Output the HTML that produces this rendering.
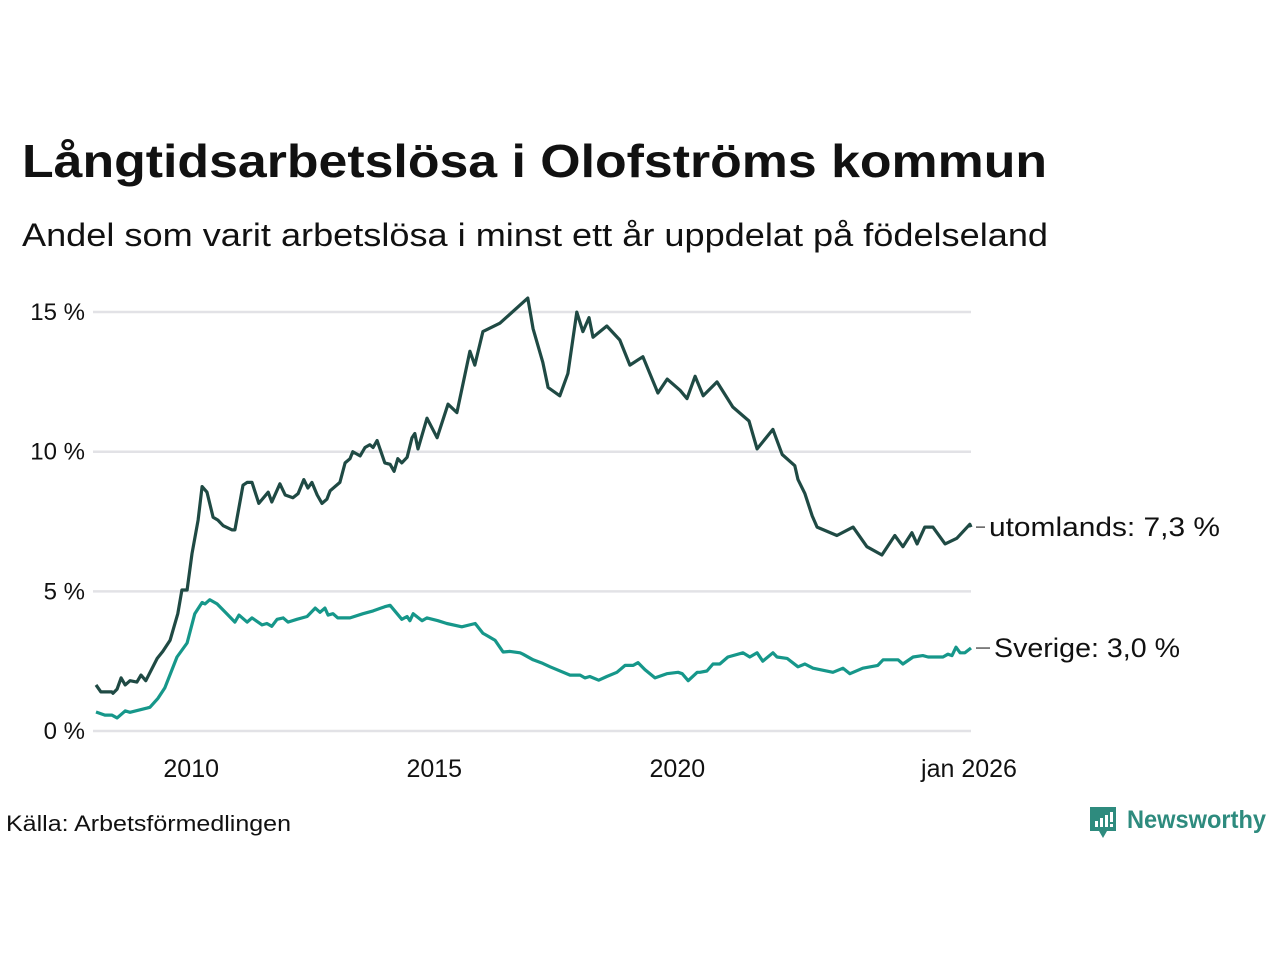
<!DOCTYPE html>
<html><head><meta charset="utf-8"><style>
html,body{margin:0;padding:0;background:#fff;}
svg{display:block;font-family:"Liberation Sans",sans-serif;}
</style></head><body>
<svg id="chart" width="1280" height="960" viewBox="0 0 1280 960">
<text x="22" y="177" font-size="46" font-weight="bold" fill="#111" textLength="1025" lengthAdjust="spacingAndGlyphs">Långtidsarbetslösa i Olofströms kommun</text>
<text x="22" y="246" font-size="32" fill="#111" textLength="1026" lengthAdjust="spacingAndGlyphs">Andel som varit arbetslösa i minst ett år uppdelat på födelseland</text>
<g id="grid"></g>
<g id="yticks"></g>
<g id="xticks"></g>
<g id="lines"></g>
<text x="6" y="831" font-size="22" fill="#111" textLength="285" lengthAdjust="spacingAndGlyphs">Källa: Arbetsförmedlingen</text>
<g>
<path d="M1090 807 h26 v24 h-9 l-4 7 l-4 -7 h-9 z" fill="#2e8b7e"/>
<rect x="1095" y="821" width="3" height="6" fill="#fff"/>
<rect x="1100" y="818" width="3" height="9" fill="#fff"/>
<rect x="1105" y="815" width="3" height="12" fill="#fff"/>
<rect x="1110" y="812" width="3" height="10" fill="#fff"/><rect x="1110" y="824" width="3" height="3" fill="#fff"/>
<text x="1127" y="828" font-size="25" font-weight="bold" fill="#2e8b7e" textLength="139" lengthAdjust="spacingAndGlyphs">Newsworthy</text>
</g>
</svg>
<script>
const yTicks = [0, 5, 10, 15];
const yTickLabels = ["0 %", "5 %", "10 %", "15 %"];
const xTicks = [24, 84, 144, 216];
const xTickLabels = ["2010", "2015", "2020", "jan 2026"];
// months since jan 2008
const foreignMonths = [0,1.2,3.9,4.2,5.2,6.2,7.2,8.4,10.1,11.1,12.3,15.1,16.5,18.3,20.2,21.2,22.5,23.7,25.2,26.2,27.4,28.9,30.1,31.4,33.6,34.3,36.3,37.3,38.5,40.2,42.5,43.4,45.4,46.7,48.6,49.9,51.3,52.3,53.3,54.6,55.8,57.0,57.8,60.2,61.5,62.7,63.4,65.2,66.4,67.6,68.4,69.4,71.3,72.6,73.6,74.5,75.5,76.8,78.0,78.7,79.5,81.7,84.2,86.9,89.1,92.3,93.5,95.5,99.7,106.6,107.9,110.3,111.6,114.5,116.5,118.7,120.2,121.7,122.7,126.1,129.3,131.8,135.0,138.7,141.0,144.2,145.9,147.9,149.9,153.3,157.2,161.2,163.2,167.1,169.4,172.5,173.3,175.0,176.8,178.0,182.9,186.9,190.3,194.0,197.2,199.2,201.4,202.7,204.6,206.6,209.6,212.5,215.7,216];
const foreignValues = [1.65,1.4,1.4,1.35,1.5,1.9,1.65,1.8,1.75,2.0,1.8,2.6,2.85,3.25,4.2,5.05,5.05,6.35,7.55,8.75,8.55,7.65,7.55,7.35,7.2,7.2,8.8,8.9,8.9,8.15,8.55,8.2,8.85,8.45,8.35,8.5,9.0,8.7,8.9,8.45,8.15,8.3,8.6,8.9,9.6,9.75,10.0,9.85,10.15,10.25,10.15,10.4,9.6,9.55,9.3,9.75,9.6,9.8,10.5,10.65,10.1,11.2,10.5,11.7,11.4,13.6,13.1,14.3,14.6,15.5,14.4,13.2,12.3,12.0,12.8,15.0,14.3,14.8,14.1,14.5,14.0,13.1,13.4,12.1,12.6,12.2,11.9,12.7,12.0,12.5,11.6,11.1,10.1,10.8,9.9,9.5,9.0,8.5,7.7,7.3,7.0,7.3,6.6,6.3,7.0,6.6,7.1,6.7,7.3,7.3,6.7,6.9,7.4,7.3];
const swedenMonths = [0,2.2,3.9,5.2,7.2,8.4,12.6,13.3,15.3,17.0,20.0,22.5,24.4,26.2,26.9,28.1,29.9,32.3,34.3,35.3,37.3,38.5,41.0,42.2,43.4,44.7,46.2,47.4,49.6,52.1,54.1,55.3,56.5,57.3,58.5,59.7,62.7,65.9,68.4,71.3,72.6,75.5,76.8,77.5,78.3,80.5,81.7,84.4,86.6,90.3,93.6,95.5,98.5,100.5,102.2,104.7,105.4,107.9,110.3,112.1,117.0,119.5,120.7,121.9,124.1,126.1,128.6,130.6,132.6,133.8,135.5,138.0,140.9,143.7,144.7,146.2,148.4,149.1,150.8,152.3,154.0,156.0,159.7,161.4,163.2,164.6,167.1,168.1,170.6,173.3,175.0,177.0,181.9,184.4,186.1,189.3,193.0,194.3,198.0,199.2,201.7,204.1,205.4,209.1,210.3,211.3,212.3,213.3,214.5,216];
const swedenValues = [0.68,0.57,0.57,0.47,0.72,0.67,0.82,0.85,1.17,1.55,2.65,3.15,4.2,4.6,4.55,4.7,4.55,4.2,3.9,4.15,3.9,4.05,3.8,3.85,3.75,4.0,4.05,3.9,4.0,4.1,4.4,4.25,4.4,4.15,4.2,4.05,4.05,4.2,4.3,4.45,4.5,4.0,4.1,3.95,4.2,3.95,4.05,3.95,3.85,3.73,3.85,3.5,3.25,2.83,2.85,2.8,2.75,2.55,2.42,2.3,2.0,2.0,1.9,1.95,1.82,1.95,2.1,2.35,2.35,2.45,2.2,1.9,2.05,2.1,2.05,1.8,2.1,2.1,2.15,2.4,2.4,2.65,2.8,2.65,2.8,2.5,2.8,2.65,2.6,2.3,2.4,2.25,2.1,2.25,2.05,2.25,2.35,2.55,2.55,2.4,2.65,2.7,2.65,2.65,2.75,2.7,3.0,2.8,2.8,2.97];
const foreignLabel = "utomlands: 7,3 %";
const swedenLabel = "Sverige: 3,0 %";

const NS = "http://www.w3.org/2000/svg";
const x0 = 96, x1 = 971, mEnd = 216;
const yBase = 731, pxPerUnit = 27.93;
function xScale(m){ return x0 + m / mEnd * (x1 - x0); }
function yScale(v){ return yBase - v * pxPerUnit; }
function mk(tag, attrs){ const e = document.createElementNS(NS, tag); for (const k in attrs) e.setAttribute(k, attrs[k]); return e; }

const grid = document.getElementById('grid'), yt = document.getElementById('yticks'), xt = document.getElementById('xticks'), lines = document.getElementById('lines');
yTicks.forEach((v, i) => {
  const l = mk('line', {x1: 93, x2: 971, y1: yScale(v), y2: yScale(v), stroke: '#e2e2e6', 'stroke-width': 2.5});
  
  
  grid.appendChild(l);
  const t = mk('text', {x: 85, y: yScale(v) + 8, 'text-anchor': 'end', 'font-size': 24, fill: '#111'});
  t.textContent = yTickLabels[i];
  
  
  yt.appendChild(t);
});
xTicks.forEach((v, i) => {
  const t = mk('text', {x: xScale(v) - 2, y: 777, 'text-anchor': 'middle', 'font-size': 25, fill: '#111'});
  t.textContent = xTickLabels[i];
  
  
  xt.appendChild(t);
});
function drawLine(ms, vals, color, name){
  const d = ms.map((m, i) => (i ? 'L' : 'M') + xScale(m).toFixed(1) + ' ' + yScale(vals[i]).toFixed(1)).join(' ');
  const p = mk('path', {d: d, fill: 'none', stroke: color, 'stroke-width': 3.2, 'stroke-linejoin': 'round'});
  
  
  lines.appendChild(p);
}
drawLine(foreignMonths, foreignValues, '#1f4a44', 'line-utomlands');
drawLine(swedenMonths, swedenValues, '#16978a', 'line-sverige');
function endLabel(vals, text, lx, w, name){
  const yv = yScale(vals[vals.length - 1]);
  const c = mk('line', {x1: 976, x2: lx - 4, y1: yv, y2: yv, stroke: '#333', 'stroke-width': 1.2});
  
  
  lines.appendChild(c);
  const t = mk('text', {x: lx, y: yv + 9, 'font-size': 27, fill: '#111', textLength: w, lengthAdjust: 'spacingAndGlyphs'});
  t.textContent = text;
  
  
  lines.appendChild(t);
}
endLabel(foreignValues, foreignLabel, 989, 231, 'label-utomlands');
endLabel(swedenValues, swedenLabel, 994, 186, 'label-sverige');
</script>
</body></html>
